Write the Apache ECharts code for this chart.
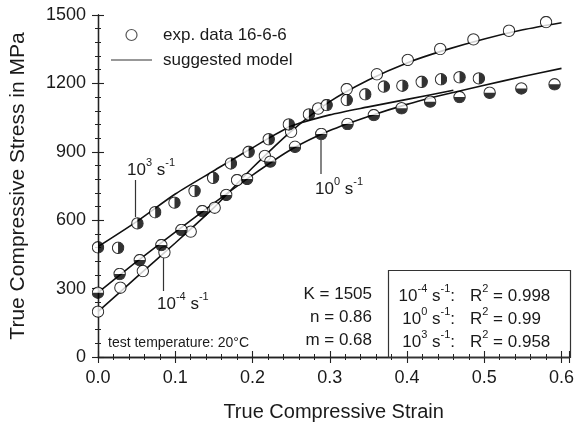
<!DOCTYPE html>
<html>
<head>
<meta charset="utf-8">
<script src="https://cdn.jsdelivr.net/npm/echarts@6/dist/echarts.min.js"></script>
<style>
html,body{margin:0;padding:0;background:#fff;}
#chart{width:577px;height:431px;}
</style>
</head>
<body>
<div id="chart"></div>
<script>
// ---- data ----
const xTicks = [0.0, 0.1, 0.2, 0.3, 0.4, 0.5, 0.6];
const yTicks = [0, 300, 600, 900, 1200, 1500];

// 10^-4 s^-1 (open circles)
const strainRateM4 = [0, 0.029, 0.058, 0.086, 0.12, 0.151, 0.18, 0.216, 0.25, 0.285, 0.322, 0.361, 0.401, 0.443, 0.486, 0.532, 0.58];
const stressRateM4 = [199, 304, 377, 459, 550, 655, 776, 882, 988, 1090, 1175, 1240, 1303, 1351, 1393, 1431, 1469];
// 10^0 s^-1 (bottom half filled)
const strainRate0 = [0, 0.028, 0.054, 0.082, 0.108, 0.135, 0.166, 0.193, 0.223, 0.255, 0.289, 0.323, 0.357, 0.393, 0.43, 0.468, 0.507, 0.548, 0.591];
const stressRate0 = [282, 364, 425, 491, 557, 640, 711, 781, 857, 922, 978, 1022, 1061, 1091, 1120, 1140, 1159, 1178, 1196];
// 10^3 s^-1 (right half filled)
const strainRate3 = [0, 0.026, 0.051, 0.074, 0.099, 0.125, 0.149, 0.172, 0.195, 0.221, 0.247, 0.273, 0.296, 0.322, 0.346, 0.37, 0.394, 0.419, 0.444, 0.468, 0.493];
const stressRate3 = [481, 479, 586, 635, 677, 728, 786, 849, 900, 955, 1020, 1064, 1105, 1127, 1152, 1186, 1190, 1207, 1218, 1227, 1222];

// suggested model curves
const modelStrainA = [0, 0.05, 0.1, 0.15, 0.2, 0.25, 0.3, 0.35, 0.4, 0.45, 0.5, 0.55, 0.6];
const modelRateM4 = [199, 350, 500, 655, 830, 990, 1120, 1215, 1290, 1347, 1395, 1435, 1466];
const modelRate0 = [282, 418, 548, 675, 798, 910, 993, 1055, 1108, 1152, 1192, 1230, 1266];
const modelStrainB = [0, 0.05, 0.1, 0.15, 0.2, 0.25, 0.3, 0.35, 0.4, 0.46];
const modelRate3 = [484, 594, 715, 817, 918, 1012, 1062, 1097, 1130, 1170];

const zip = (xs, ys) => xs.map((x, i) => [x, ys[i]]);

function svgSym(kind) {
  let half = '';
  if (kind === 'right') half = "<path d='M13,1.6 A11.4,11.4 0 0 1 13,24.4 Z' fill='black'/>";
  if (kind === 'bottom') half = "<path d='M1.6,13 A11.4,11.4 0 0 0 24.4,13 Z' fill='black'/>";
  const svg = "<svg xmlns='http://www.w3.org/2000/svg' width='26' height='26' viewBox='0 0 26 26'>" +
    "<circle cx='13' cy='13' r='11.4' fill='white'/>" + half +
    "<circle cx='13' cy='13' r='11.4' fill='none' stroke='black' stroke-width='2.1'/></svg>";
  return 'image://data:image/svg+xml;charset=utf-8,' + encodeURIComponent(svg);
}

const FONT = '"Liberation Sans", Arial, sans-serif';
const TXT = '#1a1a1a';
const LINE = '#222';

const chart = echarts.init(document.getElementById('chart'), null, {renderer: 'canvas'});

const axisCommon = {
  axisLine: {show: true, lineStyle: {color: LINE, width: 1.3}},
  axisTick: {show: true, inside: false, length: 6, lineStyle: {color: LINE, width: 1.1}},
  minorTick: {show: true, splitNumber: 5, length: 3, lineStyle: {color: LINE, width: 1}},
  splitLine: {show: false},
  minorSplitLine: {show: false}
};

const sup = {fontSize: 11, fontFamily: FONT, color: TXT, lineHeight: 22, verticalAlign: 'top'};
const base = {fontSize: 17, fontFamily: FONT, color: TXT, lineHeight: 22, verticalAlign: 'bottom'};

function rateText(exp) {
  return '{a|10}{s|' + exp + '}{a| s}{s|-1}';
}
function textEl(x, y, text, opts) {
  return {
    type: 'text', x: x, y: y, z: 20,
    style: Object.assign({text: text, rich: {a: base, s: sup}, font: '17px ' + FONT, fill: TXT,
      textVerticalAlign: 'middle'}, opts || {})
  };
}
function lineEl(x1, y1, x2, y2) {
  return {type: 'line', z: 20, shape: {x1: x1, y1: y1, x2: x2, y2: y2}, style: {stroke: '#333', lineWidth: 1.2}};
}
const modelLine = (xs, ys, name) => ({
  type: 'line', name: name, data: zip(xs, ys), showSymbol: false,
  smooth: 0.25, lineStyle: {color: '#111', width: 1.6}, z: 2, silent: true
});
const expPoints = (xs, ys, kind, name) => ({
  type: 'scatter', name: name, data: zip(xs, ys),
  symbol: svgSym(kind), symbolSize: 13, z: 5, clip: false
});

const option = {
  animation: false,
  backgroundColor: '#fff',
  grid: {left: 97, right: 7, top: 15, bottom: 74, containLabel: false},
  xAxis: [
    Object.assign({}, axisCommon, {
      type: 'value', min: 0, max: 0.61, interval: 0.1, position: 'bottom',
      name: 'True Compressive Strain', nameLocation: 'middle', nameGap: 45,
      nameTextStyle: {fontSize: 20, fontFamily: FONT, color: TXT},
      axisLabel: {fontSize: 18, fontFamily: FONT, color: TXT, margin: 12,
        formatter: v => (xTicks.some(t => Math.abs(t - v) < 1e-9) ? v.toFixed(1) : '')}
    }),
    Object.assign({}, axisCommon, {
      type: 'value', min: 0, max: 0.61, interval: 0.1, position: 'top',
      axisLabel: {show: false}
    })
  ],
  yAxis: [
    Object.assign({}, axisCommon, {
      type: 'value', min: 0, max: 1500, interval: 300, position: 'left',
      name: 'True Compressive Stress in MPa', nameLocation: 'middle', nameGap: 69,
      nameTextStyle: {fontSize: 21, fontFamily: FONT, color: TXT},
      axisLabel: {fontSize: 18, fontFamily: FONT, color: TXT, margin: 12,
        formatter: v => (yTicks.indexOf(v) >= 0 ? String(v) : '')}
    }),
    Object.assign({}, axisCommon, {
      type: 'value', min: 0, max: 1500, interval: 300, position: 'right',
      axisLabel: {show: false}
    })
  ],
  series: [
    modelLine(modelStrainA, modelRateM4, 'suggested model'),
    modelLine(modelStrainA, modelRate0, 'suggested model (10^0)'),
    modelLine(modelStrainB, modelRate3, 'suggested model (10^3)'),
    expPoints(strainRateM4, stressRateM4, 'open', 'exp. data 16-6-6'),
    expPoints(strainRate0, stressRate0, 'bottom', 'exp. data (10^0)'),
    expPoints(strainRate3, stressRate3, 'right', 'exp. data (10^3)')
  ],
  graphic: [
    // legend
    {type: 'circle', z: 20, shape: {cx: 131.5, cy: 35, r: 5.5}, style: {fill: '#fff', stroke: '#555', lineWidth: 1.2}},
    textEl(163, 35, 'exp. data 16-6-6'),
    lineEl(111, 60, 152, 60),
    textEl(163, 60, 'suggested model'),
    // strain-rate annotations
    textEl(127, 168, rateText('3')),
    lineEl(135.5, 180, 135.5, 217),
    textEl(157, 302, rateText('-4')),
    lineEl(163.5, 258, 163.5, 291),
    textEl(315, 187, rateText('0')),
    lineEl(321, 140, 321, 174),
    // material constants
    textEl(372, 294, 'K = 1505', {textAlign: 'right'}),
    textEl(372, 317, 'n = 0.86', {textAlign: 'right'}),
    textEl(372, 340, 'm = 0.68', {textAlign: 'right'}),
    // R^2 box
    {type: 'rect', z: 19, shape: {x: 388.5, y: 270.5, width: 182, height: 87}, style: {fill: 'none', stroke: '#333', lineWidth: 1.2}},
    textEl(455, 294, rateText('-4') + '{a|:}', {textAlign: 'right'}),
    textEl(455, 317, rateText('0') + '{a|:}', {textAlign: 'right'}),
    textEl(455, 340, rateText('3') + '{a|:}', {textAlign: 'right'}),
    textEl(470, 294, '{a|R}{s|2}{a| = 0.998}'),
    textEl(470, 317, '{a|R}{s|2}{a| = 0.99}'),
    textEl(470, 340, '{a|R}{s|2}{a| = 0.958}'),
    textEl(108, 343, 'test temperature: 20°C', {font: '14px ' + FONT})
  ]
};
chart.setOption(option);
</script>
</body>
</html>
